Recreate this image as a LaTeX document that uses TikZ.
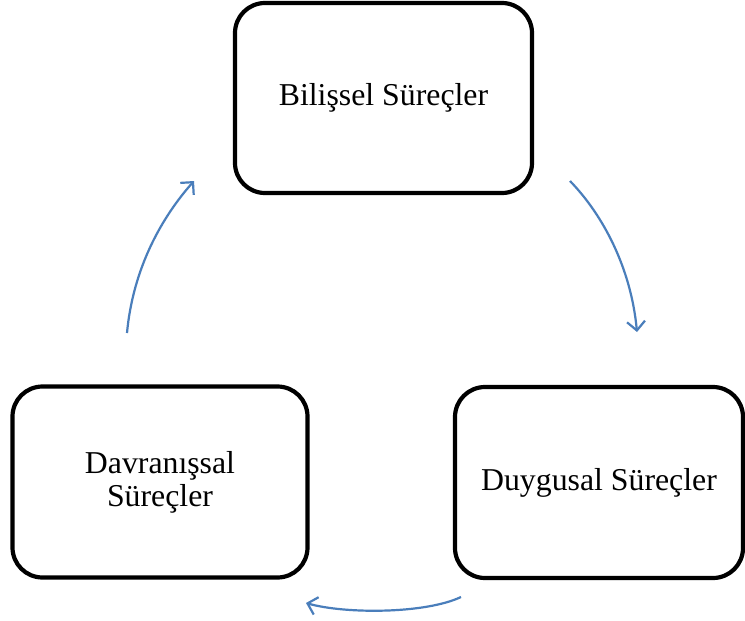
\documentclass[tikz,border=0pt]{standalone}
\usepackage{fontspec}
\setmainfont{Liberation Serif}
\usetikzlibrary{arrows.meta}
\definecolor{arrowblue}{HTML}{4A7EBB}
\begin{document}
\begin{tikzpicture}[x=1pt,y=-1pt,
  procbox/.style={draw=black, line width=4.2pt, rounded corners=30pt, fill=white,
    align=center, inner sep=0pt, font=\fontsize{31.8}{33}\selectfont},
  cyclearrow/.style={draw=arrowblue, line width=2.2pt,
    -{Straight Barb[length=9pt,width=18pt,line width=2.2pt]}}]
\useasboundingbox (0,0) rectangle (745,621);
\fill[white] (0,0) rectangle (745,621);
\node[procbox, minimum width=297pt, minimum height=190pt] (bil) at (383.5,98) {\raisebox{-3pt}{Bilişsel Süreçler}};
\node[procbox, minimum width=295pt, minimum height=191pt] (dav) at (160,482) {\raisebox{-3pt}{Davranışsal}\\\raisebox{-3pt}{Süreçler}};
\node[procbox, minimum width=288pt, minimum height=191pt] (duy) at (599,482.5) {\raisebox{-2pt}{Duygusal Süreçler}};
\coordinate (a1s) at (127,333);
\coordinate (a1e) at (194,181);
\coordinate (a2s) at (570,181);
\coordinate (a2e) at (637,332);
\coordinate (a3s) at (461,597);
\coordinate (a3e) at (306,603);
\draw[cyclearrow] (a1s) .. controls (133,268) and (162,217) .. (a1e);
\draw[cyclearrow] (a2s) .. controls (603,215) and (631,268) .. (a2e);
\draw[cyclearrow] (a3s) .. controls (425,614) and (345,614) .. (a3e);
\end{tikzpicture}
\end{document}
